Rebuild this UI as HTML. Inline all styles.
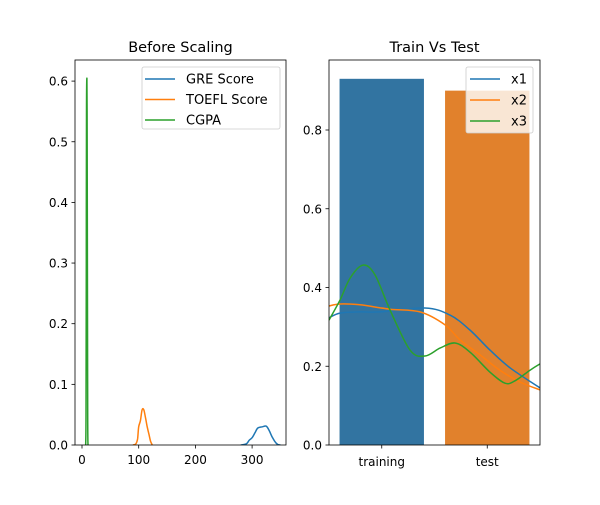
<!DOCTYPE html>
<html><head><meta charset="utf-8"><style>
body{margin:0;background:#fff;}
svg text{font-family:"DejaVu Sans","Liberation Sans",sans-serif;}
</style></head><body>
<svg id="c" width="600" height="500" xmlns="http://www.w3.org/2000/svg">
<rect width="600" height="500" fill="#fff"/>
</svg>
<script>
// Left chart data
const greX=[280,290,295,300,305,310,318,325,330,335,340,345,350];
const greY=[0,0.002,0.008,0.012,0.02,0.028,0.03,0.031,0.024,0.014,0.006,0.001,0];
const toeflX=[90,95,98,100,103,106,109,112,115,118,121,124];
const toeflY=[0,0.002,0.01,0.03,0.04,0.058,0.058,0.045,0.03,0.018,0.006,0];
const cgpaX=[6.5,7,7.5,8,8.6,9,9.5,10,10.5];
const cgpaY=[0,0.05,0.3,0.55,0.605,0.55,0.3,0.05,0];
const leftXTicks=[0,100,200,300];
const leftYTicks=[0,0.1,0.2,0.3,0.4,0.5,0.6];
const leftNames=["GRE Score","TOEFL Score","CGPA"];
// Right chart data
const cats=["training","test"];
const accs=[0.93,0.90];
const rightYTicks=[0,0.2,0.4,0.6,0.8];
const x1X=[-0.5,-0.396,-0.206,-0.017,0.41,0.647,0.836,1.026,1.216,1.5];
const x1Y=[0.323,0.335,0.338,0.338,0.348,0.33,0.292,0.241,0.196,0.145];
const x2X=[-0.5,-0.396,-0.206,0.078,0.363,0.6,0.742,0.931,1.12,1.31,1.5];
const x2Y=[0.353,0.358,0.356,0.345,0.338,0.305,0.267,0.229,0.19,0.16,0.14];
const x3X=[-0.5,-0.396,-0.30,-0.178,-0.064,0.078,0.268,0.41,0.552,0.694,0.836,1.026,1.168,1.263,1.405,1.5];
const x3Y=[0.317,0.368,0.424,0.457,0.432,0.343,0.241,0.226,0.246,0.259,0.236,0.185,0.157,0.163,0.19,0.206];

const svg=document.getElementById('c');
const NS="http://www.w3.org/2000/svg";
function mk(tag,attrs,parent){const e=document.createElementNS(NS,tag);for(const k in attrs)e.setAttribute(k,attrs[k]);(parent||svg).appendChild(e);return e;}
function txt(s,x,y,anchor,size,parent){const t=mk('text',{x:x,y:y,'text-anchor':anchor,'font-size':size,fill:'#000'},parent);t.textContent=s;return t;}
// smooth path via Catmull-Rom
function path(xs,ys,fx,fy){const P=xs.map((x,i)=>[fx(x),fy(ys[i])]);let d='M'+P[0][0].toFixed(1)+','+P[0][1].toFixed(1);
for(let i=0;i<P.length-1;i++){const p0=P[Math.max(0,i-1)],p1=P[i],p2=P[i+1],p3=P[Math.min(P.length-1,i+2)];
const c1=[p1[0]+(p2[0]-p0[0])/6,p1[1]+(p2[1]-p0[1])/6],c2=[p2[0]-(p3[0]-p1[0])/6,p2[1]-(p3[1]-p1[1])/6];
d+='C'+c1.map(v=>v.toFixed(1)).join(',')+' '+c2.map(v=>v.toFixed(1)).join(',')+' '+p2[0].toFixed(1)+','+p2[1].toFixed(1);}return d;}
const cols=['#1f77b4','#ff7f0e','#2ca02c'];

// Left axes
const L={x0:75,x1:286,y0:60,y1:445};
const lx=v=>82+(v)*0.567;
const ly=v=>445-v*606.5;
const gL=mk('g',{},svg);


const clipL=mk('clipPath',{id:'cl'},svg);mk('rect',{x:L.x0,y:L.y0,width:L.x1-L.x0,height:L.y1-L.y0},clipL);
const series=[[greX,greY],[toeflX,toeflY],[cgpaX,cgpaY]];
series.forEach((s,i)=>{const p=mk('path',{d:path(s[0],s[1],lx,ly),fill:'none',stroke:cols[i],'stroke-width':1.5,'clip-path':'url(#cl)'},gL);

});
mk('rect',{x:L.x0,y:L.y0,width:L.x1-L.x0,height:L.y1-L.y0,fill:'none',stroke:'#000','stroke-width':0.8},gL);
leftXTicks.forEach(v=>{const x=lx(v);mk('line',{x1:x,x2:x,y1:445,y2:448.5,stroke:'#000','stroke-width':0.8},gL);txt(v,x,464,'middle',12,gL);});
leftYTicks.forEach(v=>{const y=ly(v);mk('line',{x1:71.5,x2:75,y1:y,y2:y,stroke:'#000','stroke-width':0.8},gL);txt(v.toFixed(1),68,y+4.5,'end',12,gL);});
const tl=txt('Before Scaling',180.5,52,'middle',14.5,gL);
const lgL=mk('g',{},gL);
mk('rect',{x:142,y:67,width:138,height:62,rx:2,fill:'#fff','fill-opacity':0.8,stroke:'#ccc','stroke-width':0.8},lgL);
leftNames.forEach((n,i)=>{const y=79+i*20.5;mk('line',{x1:145,x2:175,y1:y,y2:y,stroke:cols[i],'stroke-width':1.5},lgL);txt(n,186,y+4.5,'start',13,lgL);});

// Right axes
const R={x0:329,x1:540,y0:60,y1:445};
const rx=v=>329+(v+0.5)*105.5;
const ry=v=>445-v*393.75;
const gR=mk('g',{},svg);


const barCols=['#3274a1','#e1812c'];
cats.forEach((c,i)=>{const b=mk('rect',{x:rx(i-0.4),y:ry(accs[i]),width:rx(0.4)-rx(-0.4),height:ry(0)-ry(accs[i]),fill:barCols[i]},gR);

});
const clipR=mk('clipPath',{id:'cr'},svg);mk('rect',{x:R.x0,y:R.y0,width:R.x1-R.x0,height:R.y1-R.y0},clipR);
[[x1X,x1Y],[x2X,x2Y],[x3X,x3Y]].forEach((s,i)=>{const p=mk('path',{d:path(s[0],s[1],rx,ry),fill:'none',stroke:cols[i],'stroke-width':1.5,'stroke-linejoin':'round','clip-path':'url(#cr)'},gR);

});
mk('rect',{x:R.x0,y:R.y0,width:R.x1-R.x0,height:R.y1-R.y0,fill:'none',stroke:'#000','stroke-width':0.8},gR);
cats.forEach((c,i)=>{const x=rx(i);mk('line',{x1:x,x2:x,y1:445,y2:448.5,stroke:'#000','stroke-width':0.8},gR);txt(c,x,466,'middle',12,gR);});
rightYTicks.forEach(v=>{const y=ry(v);mk('line',{x1:325.5,x2:329,y1:y,y2:y,stroke:'#000','stroke-width':0.8},gR);txt(v.toFixed(1),322,y+4.5,'end',12,gR);});
const tr=txt('Train Vs Test',434.5,52,'middle',14.5,gR);
const lgR=mk('g',{},gR);
mk('rect',{x:466,y:67,width:67,height:66,rx:2,fill:'#fff','fill-opacity':0.8,stroke:'#ccc','stroke-width':0.8},lgR);
['x1','x2','x3'].forEach((n,i)=>{const y=79+i*21;mk('line',{x1:470,x2:500,y1:y,y2:y,stroke:cols[i],'stroke-width':1.5},lgR);txt(n,511,y+4.5,'start',13,lgR);});
</script>
</body></html>
